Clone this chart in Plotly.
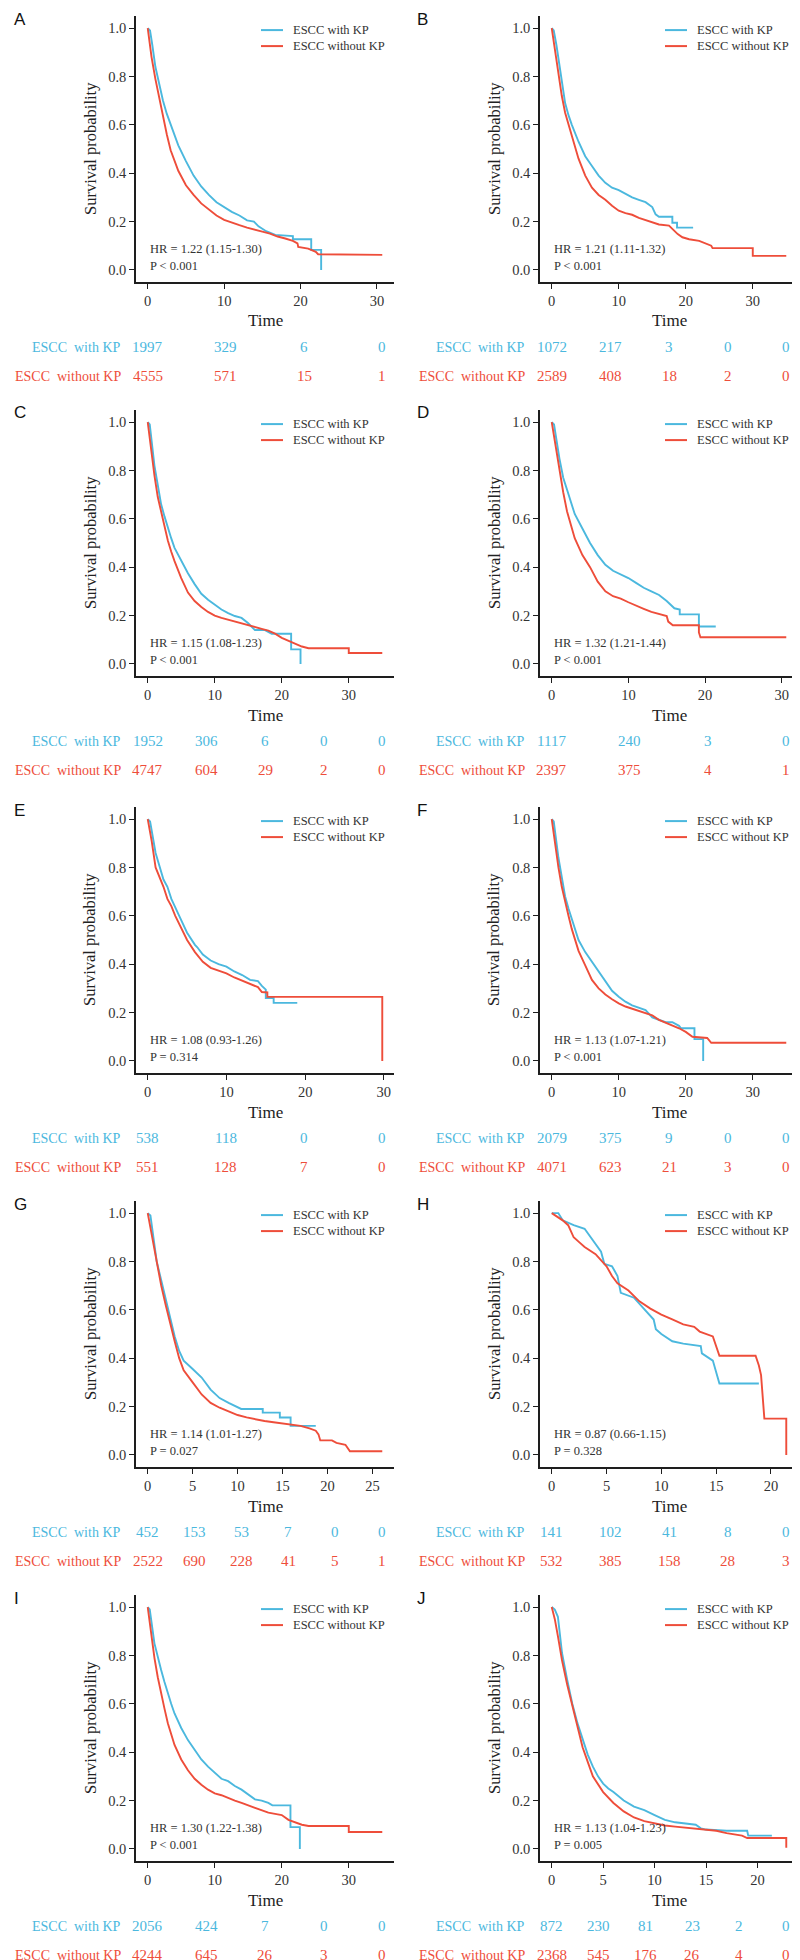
import plotly.graph_objects as go

# ---------------- data ----------------
GROUPS = ["ESCC with KP", "ESCC without KP"]
RISK_LABELS = ["ESCC\u00a0 with KP", "ESCC\u00a0 without KP"]
LETTERS = ["A", "B", "C", "D", "E", "F", "G", "H", "I", "J"]

# Panel A
A_with = [(0,1),(0.3,0.99),(0.6,0.93),(1,0.84),(1.5,0.77),(2,0.70),(2.5,0.645),(3,0.6),(3.5,0.555),(4,0.515),(5,0.45),(6,0.39),(7,0.345),(8,0.31),(9,0.28),(10,0.26),(11,0.24),(12,0.225),(13,0.205),(13.9,0.2),(14.5,0.18),(15.5,0.16),(16.7,0.145),(19,0.14),(19,0.127),(21.4,0.127),(21.4,0.083),(22.7,0.083),(22.7,0.0)]
A_without = [(0,1),(0.5,0.88),(1,0.79),(1.5,0.71),(2,0.63),(2.5,0.56),(3,0.495),(3.5,0.45),(4,0.41),(5,0.35),(6,0.31),(7,0.275),(8,0.25),(9,0.225),(10,0.207),(11,0.195),(12,0.185),(13,0.175),(14,0.165),(15,0.158),(16,0.15),(17,0.138),(18,0.13),(19,0.12),(19.6,0.11),(19.7,0.095),(21,0.088),(22,0.075),(22.3,0.065),(30.7,0.062)]
A_risk_t = [0, 10.23, 20.47, 30.7]
A_risk_with = [1997, 329, 6, 0]
A_risk_without = [4555, 571, 15, 1]
A_hr = "HR = 1.22 (1.15-1.30)"
A_p = "P < 0.001"
A_xticks = [0, 10, 20, 30]

# Panel B
B_with = [(0,1),(0.3,0.99),(0.7,0.93),(1,0.87),(1.5,0.77),(2,0.69),(2.5,0.64),(3,0.6),(4,0.53),(5,0.47),(6,0.43),(7,0.39),(8,0.36),(9,0.34),(10,0.33),(11,0.315),(12,0.3),(13,0.29),(14,0.28),(15,0.26),(15.5,0.23),(16,0.22),(18,0.22),(18,0.195),(18.7,0.195),(18.7,0.175),(21.1,0.175)]
B_without = [(0,1),(0.5,0.9),(1,0.81),(1.5,0.72),(2,0.65),(2.5,0.6),(3,0.56),(4,0.46),(5,0.39),(6,0.34),(7,0.31),(8,0.29),(9,0.265),(10,0.245),(11,0.235),(12,0.228),(13,0.215),(14,0.205),(15,0.195),(16,0.188),(17.5,0.183),(18.2,0.165),(18.8,0.148),(19.5,0.135),(20.5,0.127),(22,0.12),(22.8,0.11),(23.8,0.1),(24,0.09),(30,0.09),(30,0.058),(35,0.058)]
B_risk_t = [0, 8.75, 17.5, 26.25, 35]
B_risk_with = [1072, 217, 3, 0, 0]
B_risk_without = [2589, 408, 18, 2, 0]
B_hr = "HR = 1.21 (1.11-1.32)"
B_p = "P < 0.001"
B_xticks = [0, 10, 20, 30]

# Panel C
C_with = [(0,1),(0.3,0.99),(1,0.82),(1.5,0.73),(2,0.66),(2.5,0.61),(3,0.56),(3.5,0.52),(4,0.48),(5,0.425),(6,0.375),(7,0.33),(8,0.29),(9,0.265),(10,0.245),(11,0.225),(12,0.21),(13,0.198),(14,0.19),(15,0.168),(16,0.14),(17.5,0.14),(18.5,0.125),(21.4,0.125),(21.4,0.06),(22.8,0.06),(22.8,0.0)]
C_without = [(0,1),(0.5,0.88),(1,0.78),(1.5,0.69),(2,0.63),(2.5,0.565),(3,0.51),(3.5,0.465),(4,0.425),(5,0.355),(6,0.295),(7,0.26),(8,0.235),(9,0.215),(10,0.2),(11,0.19),(12,0.182),(13,0.175),(14,0.167),(15,0.16),(16,0.152),(17,0.145),(18,0.138),(19,0.125),(20,0.108),(21,0.097),(22,0.085),(23,0.072),(24,0.065),(30,0.065),(30,0.045),(35,0.045)]
C_risk_t = [0, 8.75, 17.5, 26.25, 35]
C_risk_with = [1952, 306, 6, 0, 0]
C_risk_without = [4747, 604, 29, 2, 0]
C_hr = "HR = 1.15 (1.08-1.23)"
C_p = "P < 0.001"
C_xticks = [0, 10, 20, 30]

# Panel D
D_with = [(0,1),(0.3,0.99),(1,0.85),(1.5,0.77),(2,0.72),(2.5,0.67),(3,0.62),(4,0.56),(5,0.5),(6,0.45),(7,0.41),(8,0.385),(9,0.37),(10,0.355),(11,0.335),(12,0.315),(13,0.3),(14,0.285),(15,0.26),(16,0.23),(16.7,0.225),(16.7,0.205),(19.2,0.205),(19.2,0.155),(21.4,0.155)]
D_without = [(0,1),(0.5,0.9),(1,0.8),(1.5,0.71),(2,0.63),(2.5,0.57),(3,0.52),(4,0.45),(5,0.4),(6,0.34),(7,0.3),(8,0.28),(9,0.27),(10,0.255),(11,0.24),(12,0.228),(13,0.215),(14,0.205),(15,0.198),(15.2,0.175),(15.8,0.16),(19.2,0.16),(19.2,0.13),(19.4,0.11),(30.6,0.11)]
D_risk_t = [0, 10.2, 20.4, 30.6]
D_risk_with = [1117, 240, 3, 0]
D_risk_without = [2397, 375, 4, 1]
D_hr = "HR = 1.32 (1.21-1.44)"
D_p = "P < 0.001"
D_xticks = [0, 10, 20, 30]

# Panel E
E_with = [(0,1),(0.3,0.99),(1,0.86),(1.5,0.8),(2,0.75),(2.5,0.72),(3,0.67),(4,0.6),(5,0.53),(6,0.48),(6.3,0.47),(7,0.44),(8,0.415),(9,0.4),(10,0.39),(11,0.37),(12,0.355),(13,0.335),(14,0.33),(14.5,0.31),(15,0.295),(15,0.26),(16,0.26),(16,0.24),(19,0.24)]
E_without = [(0,1),(0.5,0.91),(1,0.8),(1.5,0.76),(2,0.72),(2.5,0.67),(3,0.64),(3.5,0.6),(4,0.565),(5,0.5),(6,0.45),(7,0.41),(8,0.385),(9,0.375),(10,0.362),(11,0.345),(12,0.332),(13,0.318),(14,0.305),(14.5,0.285),(15.2,0.283),(15.2,0.265),(29.8,0.265),(29.8,0.0)]
E_risk_t = [0, 9.93, 19.87, 29.8]
E_risk_with = [538, 118, 0, 0]
E_risk_without = [551, 128, 7, 0]
E_hr = "HR = 1.08 (0.93-1.26)"
E_p = "P = 0.314"
E_xticks = [0, 10, 20, 30]

# Panel F
F_with = [(0,1),(0.3,0.99),(1,0.84),(1.5,0.75),(2,0.68),(2.5,0.63),(3,0.585),(4,0.5),(5,0.45),(6,0.41),(7,0.365),(8,0.325),(9,0.29),(10,0.265),(11,0.245),(12,0.23),(13,0.22),(14,0.21),(15,0.18),(16,0.17),(17,0.16),(18,0.16),(19,0.145),(19.3,0.135),(21.3,0.135),(21.3,0.09),(22.6,0.09),(22.6,0.0)]
F_without = [(0,1),(0.5,0.89),(1,0.8),(1.5,0.72),(2,0.655),(2.5,0.6),(3,0.545),(4,0.455),(5,0.395),(6,0.335),(7,0.3),(8,0.275),(9,0.255),(10,0.238),(11,0.225),(12,0.215),(13,0.205),(14,0.198),(15,0.188),(16,0.17),(17,0.158),(18,0.148),(19,0.135),(20,0.12),(21,0.1),(23.2,0.095),(23.8,0.075),(35,0.075)]
F_risk_t = [0, 8.75, 17.5, 26.25, 35]
F_risk_with = [2079, 375, 9, 0, 0]
F_risk_without = [4071, 623, 21, 3, 0]
F_hr = "HR = 1.13 (1.07-1.21)"
F_p = "P < 0.001"
F_xticks = [0, 10, 20, 30]

# Panel G
G_with = [(0,1),(0.3,0.99),(1,0.8),(1.5,0.72),(2,0.64),(2.5,0.57),(3,0.49),(3.5,0.43),(4,0.39),(5,0.355),(6,0.32),(7,0.27),(8,0.235),(9,0.215),(10,0.195),(10.4,0.19),(12.8,0.19),(12.8,0.175),(14.7,0.175),(14.7,0.155),(15.9,0.155),(15.9,0.12),(18.7,0.12)]
G_without = [(0,1),(0.5,0.9),(1,0.79),(1.5,0.7),(2,0.62),(2.5,0.54),(3,0.47),(3.5,0.4),(4,0.35),(5,0.3),(6,0.25),(7,0.215),(8,0.195),(9,0.18),(10,0.165),(11,0.155),(12,0.146),(13,0.14),(14,0.135),(15,0.13),(16,0.125),(17,0.12),(18,0.11),(18.7,0.1),(19,0.085),(19.2,0.06),(20.5,0.06),(21,0.05),(22,0.042),(22.5,0.015),(26.1,0.015)]
G_risk_t = [0, 5.22, 10.44, 15.66, 20.88, 26.1]
G_risk_with = [452, 153, 53, 7, 0, 0]
G_risk_without = [2522, 690, 228, 41, 5, 1]
G_hr = "HR = 1.14 (1.01-1.27)"
G_p = "P = 0.027"
G_xticks = [0, 5, 10, 15, 20, 25]

# Panel H
H_with = [(0,1),(0.6,1.0),(1,0.97),(2,0.95),(3,0.935),(3.4,0.91),(4,0.87),(4.5,0.84),(4.8,0.79),(5.5,0.78),(6,0.74),(6.3,0.67),(7.5,0.65),(8.5,0.6),(9.3,0.56),(9.5,0.52),(10,0.5),(11,0.47),(12,0.46),(13.6,0.45),(13.7,0.42),(14.7,0.39),(15,0.34),(15.3,0.295),(18.9,0.295)]
H_without = [(0,1),(0.5,0.985),(1,0.97),(1.5,0.95),(2,0.9),(2.5,0.88),(3,0.86),(4,0.83),(5,0.78),(5.5,0.74),(6,0.71),(7,0.68),(8,0.635),(9,0.605),(10,0.58),(11,0.56),(12,0.54),(13,0.53),(13.5,0.51),(14.7,0.49),(15,0.45),(15.3,0.41),(18.6,0.41),(18.9,0.37),(19.1,0.33),(19.3,0.22),(19.4,0.15),(21.4,0.15),(21.4,0.0)]
H_risk_t = [0, 5.35, 10.7, 16.05, 21.4]
H_risk_with = [141, 102, 41, 8, 0]
H_risk_without = [532, 385, 158, 28, 3]
H_hr = "HR = 0.87 (0.66-1.15)"
H_p = "P = 0.328"
H_xticks = [0, 5, 10, 15, 20]

# Panel I
I_with = [(0,1),(0.3,0.99),(1,0.85),(1.5,0.79),(2,0.74),(2.5,0.69),(3,0.64),(3.5,0.6),(4,0.56),(5,0.5),(6,0.45),(7,0.41),(8,0.37),(9,0.34),(10,0.315),(11,0.29),(12,0.28),(13,0.26),(14,0.245),(15,0.225),(16,0.205),(17,0.2),(18,0.19),(18.6,0.18),(21.3,0.18),(21.3,0.09),(22.7,0.09),(22.7,0.0)]
I_without = [(0,1),(0.5,0.89),(1,0.79),(1.5,0.71),(2,0.64),(2.5,0.58),(3,0.52),(3.5,0.47),(4,0.43),(5,0.37),(6,0.325),(7,0.29),(8,0.265),(9,0.245),(10,0.23),(11,0.222),(12,0.21),(13,0.2),(14,0.19),(15,0.18),(16,0.17),(17,0.16),(18,0.15),(19,0.145),(20,0.14),(21,0.12),(22,0.11),(23,0.1),(24,0.095),(30,0.095),(30,0.07),(35,0.07)]
I_risk_t = [0, 8.75, 17.5, 26.25, 35]
I_risk_with = [2056, 424, 7, 0, 0]
I_risk_without = [4244, 645, 26, 3, 0]
I_hr = "HR = 1.30 (1.22-1.38)"
I_p = "P < 0.001"
I_xticks = [0, 10, 20, 30]

# Panel J
J_with = [(0,1),(0.3,0.99),(0.6,0.96),(1,0.81),(1.5,0.7),(2,0.6),(2.5,0.52),(3,0.45),(3.5,0.39),(4,0.34),(4.5,0.3),(5,0.27),(5.5,0.25),(6,0.235),(7,0.2),(8,0.175),(9,0.16),(10,0.14),(11,0.12),(12,0.11),(13,0.105),(14,0.1),(14.5,0.085),(15,0.08),(17,0.075),(19,0.075),(19.1,0.055),(21.4,0.055)]
J_without = [(0,1),(0.3,0.95),(0.6,0.88),(1,0.78),(1.5,0.68),(2,0.59),(2.5,0.51),(3,0.42),(3.5,0.36),(4,0.3),(5,0.235),(6,0.19),(7,0.155),(8,0.13),(9,0.115),(10,0.105),(11,0.097),(12,0.092),(13,0.088),(14,0.082),(15,0.078),(16,0.075),(17,0.065),(18.5,0.055),(19,0.045),(22.8,0.045),(22.8,0.005)]
J_risk_t = [0, 4.56, 9.12, 13.68, 18.24, 22.8]
J_risk_with = [872, 230, 81, 23, 2, 0]
J_risk_without = [2368, 545, 176, 26, 4, 0]
J_hr = "HR = 1.13 (1.04-1.23)"
J_p = "P = 0.005"
J_xticks = [0, 5, 10, 15, 20]

PANELS = [
    (A_with, A_without, A_risk_t, A_risk_with, A_risk_without, A_hr, A_p, A_xticks),
    (B_with, B_without, B_risk_t, B_risk_with, B_risk_without, B_hr, B_p, B_xticks),
    (C_with, C_without, C_risk_t, C_risk_with, C_risk_without, C_hr, C_p, C_xticks),
    (D_with, D_without, D_risk_t, D_risk_with, D_risk_without, D_hr, D_p, D_xticks),
    (E_with, E_without, E_risk_t, E_risk_with, E_risk_without, E_hr, E_p, E_xticks),
    (F_with, F_without, F_risk_t, F_risk_with, F_risk_without, F_hr, F_p, F_xticks),
    (G_with, G_without, G_risk_t, G_risk_with, G_risk_without, G_hr, G_p, G_xticks),
    (H_with, H_without, H_risk_t, H_risk_with, H_risk_without, H_hr, H_p, H_xticks),
    (I_with, I_without, I_risk_t, I_risk_with, I_risk_without, I_hr, I_p, I_xticks),
    (J_with, J_without, J_risk_t, J_risk_with, J_risk_without, J_hr, J_p, J_xticks),
]

# ---------------- styling / layout ----------------
W, H = 800, 1960
BLUE = "#4BB8DE"
RED = "#EE4D3A"
COLORS = [BLUE, RED]
SERIF = "Liberation Serif, Times New Roman, serif"
SANS = "Liberation Sans, Arial, sans-serif"
AXIS_COLOR = "#1e1e1e"
TEXT_GREY = "#333333"

COL_X = [(128, 386), (532, 790)]           # plot-area left/right in px
ROW_TOP = [8, 402, 799, 1193, 1587]        # plot-area top in px
PLOT_H = 266                                # px for y in [-0.05, 1.05]


def fx(px):
    return px / W


def fy(py):
    return 1 - py / H


fig = go.Figure()
annotations = []
shapes = []
layout_axes = {}

for i, (cw, cwo, rt, rw, rwo, hr, pv, xt) in enumerate(PANELS):
    row, col = divmod(i, 2)
    n = i + 1
    xname = "x" if n == 1 else f"x{n}"
    yname = "y" if n == 1 else f"y{n}"
    x0, x1 = COL_X[col]
    top = ROW_TOP[row]
    bot = top + PLOT_H
    y1px = top + 0.05 / 1.1 * PLOT_H   # pixel row of survival 1.0
    xmax = rt[-1]

    for g, curve in enumerate([cw, cwo]):
        fig.add_trace(go.Scatter(
            x=[p[0] for p in curve], y=[p[1] for p in curve],
            mode="lines", line=dict(color=COLORS[g], width=1.9),
            xaxis=xname, yaxis=yname, showlegend=False,
            name=GROUPS[g], hoverinfo="skip"))

    common = dict(showline=True, linecolor=AXIS_COLOR, linewidth=1.6,
                  ticks="outside", ticklen=5, tickwidth=1.4, tickcolor=AXIS_COLOR,
                  showgrid=False, zeroline=False,
                  tickfont=dict(family=SERIF, size=14.5, color=TEXT_GREY))
    layout_axes["xaxis" if n == 1 else f"xaxis{n}"] = dict(
        domain=[fx(x0), fx(x1)], anchor=yname,
        range=[-0.05 * xmax, 1.05 * xmax], tickvals=xt, **common)
    layout_axes["yaxis" if n == 1 else f"yaxis{n}"] = dict(
        domain=[fy(bot), fy(top)], anchor=xname,
        range=[-0.05, 1.05], tickvals=[0, 0.2, 0.4, 0.6, 0.8, 1.0],
        tickformat=".1f", **common)

    # panel letter
    annotations.append(dict(text=LETTERS[i], x=fx(4 if col == 0 else 407),
                            y=fy(top + 3), xref="paper", yref="paper",
                            xanchor="left", yanchor="middle", showarrow=False,
                            font=dict(family=SANS, size=17, color="#111")))
    # axis titles
    annotations.append(dict(text="Time", x=fx((x0 + x1) / 2), y=fy(bot + 39),
                            xref="paper", yref="paper", xanchor="center",
                            yanchor="middle", showarrow=False,
                            font=dict(family=SERIF, size=17, color="#222")))
    annotations.append(dict(text="Survival probability", x=fx(x0 - 46),
                            y=fy((top + bot) / 2), xref="paper", yref="paper",
                            xanchor="center", yanchor="middle", textangle=-90,
                            showarrow=False,
                            font=dict(family=SERIF, size=16.5, color="#222")))
    # legend
    for g in range(2):
        ly = y1px + 2 + 16 * g
        shapes.append(dict(type="line", xref="paper", yref="paper",
                           x0=fx(x0 + 125), x1=fx(x0 + 147), y0=fy(ly), y1=fy(ly),
                           line=dict(color=COLORS[g], width=2)))
        annotations.append(dict(text=GROUPS[g], x=fx(x0 + 155), y=fy(ly),
                                xref="paper", yref="paper", xanchor="left",
                                yanchor="middle", showarrow=False,
                                font=dict(family=SERIF, size=12.5, color=TEXT_GREY)))
    # HR / P
    for k, txt in enumerate([hr, pv]):
        annotations.append(dict(text=txt, x=0, y=0.085 - 0.068 * k,
                                xref=xname, yref=yname, xanchor="left",
                                yanchor="middle", showarrow=False,
                                font=dict(family=SERIF, size=12.5, color=TEXT_GREY)))
    # risk table
    for g, counts in enumerate([rw, rwo]):
        ry = bot + 65 + 29 * g
        annotations.append(dict(text=RISK_LABELS[g], x=fx(x0 - 13), y=fy(ry),
                                xref="paper", yref="paper", xanchor="right",
                                yanchor="middle", showarrow=False,
                                font=dict(family=SERIF, size=14, color=COLORS[g])))
        for t, c in zip(rt, counts):
            annotations.append(dict(text=str(c), x=t, y=fy(ry), xref=xname,
                                    yref="paper", xanchor="center",
                                    yanchor="middle", showarrow=False,
                                    font=dict(family=SERIF, size=15, color=COLORS[g])))

fig.update_layout(width=W, height=H, margin=dict(l=0, r=0, t=0, b=0),
                  paper_bgcolor="white", plot_bgcolor="white",
                  annotations=annotations, shapes=shapes, showlegend=False,
                  **layout_axes)

fig.write_html("out.html")
